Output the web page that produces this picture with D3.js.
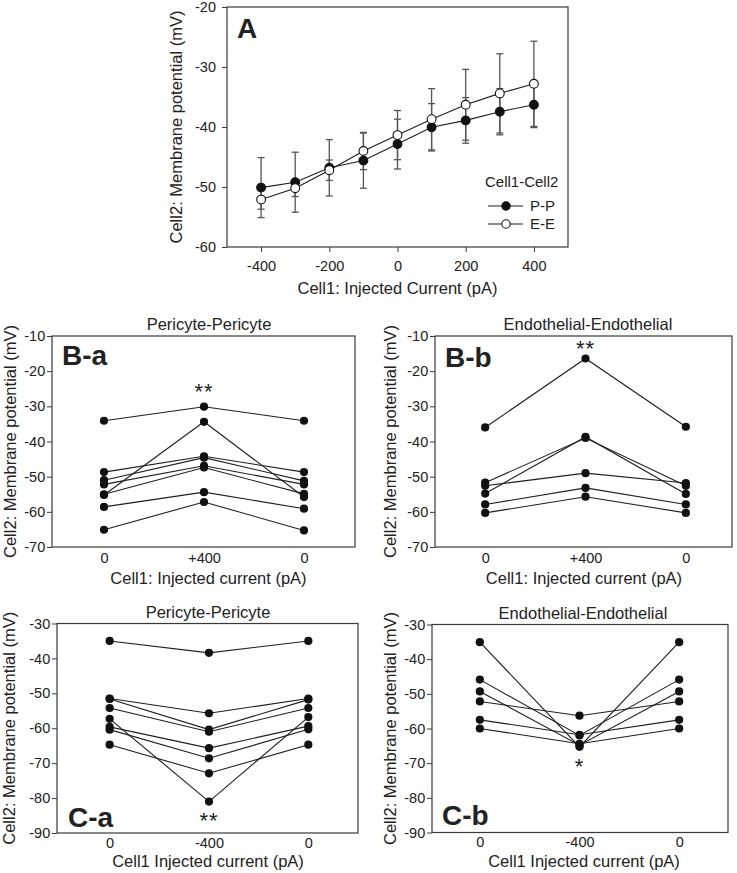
<!DOCTYPE html>
<html><head><meta charset="utf-8">
<script src="https://cdn.jsdelivr.net/npm/d3@7"></script>
<style>
body{margin:0;background:#fff}
svg{display:block}
text{font-family:Arial,"Liberation Sans",sans-serif;fill:#222}
</style>
</head><body>
<svg id="chart" width="737" height="873"></svg>
<script>
// ---------- Panel A data ----------
const currentA = [-400, -300, -200, -100, 0, 100, 200, 300, 400];
const ppMean = [-50.1, -49.2, -46.8, -45.6, -42.85, -40.05, -38.9, -37.45, -36.3];
const ppSD   = [5.0, 5.0, 4.7, 4.6, 4.15, 3.95, 3.8, 3.85, 3.8];
const eeMean = [-52.1, -50.2, -47.2, -44.0, -41.35, -38.7, -36.3, -34.4, -32.8];
const eeSD   = [1.6, 1.4, 1.7, 3.1, 4.1, 5.1, 5.9, 6.6, 7.1];
const xTicksA = [-400, -200, 0, 200, 400];
const yTicksA = [-60, -50, -40, -30, -20];
const legendTitle = "Cell1-Cell2";
const legendNames = ["P-P", "E-E"];

// ---------- Panels B / C data ----------
const condB = ["0", "+400", "0"];
const condC = ["0", "-400", "0"];
const yTicksB = [-70, -60, -50, -40, -30, -20, -10];
const yTicksC = [-90, -80, -70, -60, -50, -40, -30];
const seriesBa = [
  [-34.1, -30.1, -34.1],
  [-55.2, -34.4, -55.8],
  [-48.7, -44.2, -48.7],
  [-51.0, -44.6, -51.2],
  [-52.2, -46.9, -52.2],
  [-55.0, -47.4, -54.9],
  [-58.6, -54.4, -59.1],
  [-65.1, -57.2, -65.3]
];
const seriesBb = [
  [-36.0, -16.4, -35.8],
  [-54.8, -38.7, -54.9],
  [-51.7, -39.0, -52.6],
  [-52.6, -49.0, -51.8],
  [-57.9, -53.2, -57.9],
  [-60.3, -55.7, -60.3]
];
const seriesCa = [
  [-35.0, -38.4, -35.0],
  [-51.5, -55.7, -51.5],
  [-51.6, -60.4, -51.8],
  [-54.2, -61.0, -54.2],
  [-57.3, -81.0, -56.8],
  [-59.6, -65.7, -59.4],
  [-60.4, -68.6, -60.3],
  [-64.7, -72.9, -64.7]
];
const seriesCb = [
  [-35.1, -65.3, -35.1],
  [-45.9, -62.0, -45.9],
  [-49.3, -64.8, -49.3],
  [-52.2, -56.3, -52.2],
  [-57.5, -61.8, -57.5],
  [-60.0, -64.4, -60.0]
];
const titlePP = "Pericyte-Pericyte";
const titleEE = "Endothelial-Endothelial";
const yTitle = "Cell2: Membrane potential (mV)";
const xTitleA = "Cell1: Injected Current (pA)";
const xTitleB = "Cell1: Injected current (pA)";
const xTitleC = "Cell1 Injected current (pA)";

const svg = d3.select("#chart");
const FRAME = "#3a3a3a", LINE = "#1e1e1e", ERR = "#555";
const TICKFS = "14.5px", TITLEFS = "16.5px";
const fmt = d => String(d);

function styleAxis(g){
  g.select(".domain").remove();
  g.selectAll(".tick line").attr("stroke", FRAME);
  g.selectAll(".tick text").attr("font-size", TICKFS).attr("font-family", "Arial, 'Liberation Sans', sans-serif").attr("fill", "#222");
}

// ---------- Panel A ----------
(function(){
  const L = 227, R = 568, T = 7, B = 247;
  const x = d3.scaleLinear().domain([-500, 500]).range([L, R]);
  const y = d3.scaleLinear().domain([-60, -20]).range([B, T]);
  const g = svg.append("g");
  g.append("g").attr("transform", `translate(0,${B})`)
    .call(d3.axisBottom(x).tickValues(xTicksA).tickFormat(fmt).tickSize(5).tickPadding(9)).call(styleAxis);
  g.append("g").attr("transform", `translate(${L},0)`)
    .call(d3.axisLeft(y).tickValues(yTicksA).tickFormat(fmt).tickSize(5).tickPadding(6)).call(styleAxis);
  g.append("rect").attr("x", L).attr("y", T).attr("width", R - L).attr("height", B - T)
    .attr("fill", "none").attr("stroke", FRAME).attr("stroke-width", 1.2);

  const series = [
    {mean: ppMean, sd: ppSD, fill: "#111"},
    {mean: eeMean, sd: eeSD, fill: "#fff"}
  ];
  series.forEach(s => {
    currentA.forEach((c, i) => {
      const cx = x(c), yt = y(s.mean[i] + s.sd[i]), yb = y(s.mean[i] - s.sd[i]);
      g.append("line").attr("x1", cx).attr("x2", cx).attr("y1", yt).attr("y2", yb).attr("stroke", ERR).attr("stroke-width", 1.3);
      [yt, yb].forEach(yy => g.append("line").attr("x1", cx - 3.5).attr("x2", cx + 3.5).attr("y1", yy).attr("y2", yy).attr("stroke", ERR).attr("stroke-width", 1.3));
    });
  });
  const line = d3.line().x((d, i) => x(currentA[i])).y(d => y(d));
  series.forEach(s => {
    g.append("path").attr("d", line(s.mean)).attr("fill", "none").attr("stroke", LINE).attr("stroke-width", 1.1);
  });
  series.forEach(s => {
    g.selectAll(null).data(s.mean).enter().append("circle")
      .attr("cx", (d, i) => x(currentA[i])).attr("cy", d => y(d)).attr("r", 4.4)
      .attr("fill", s.fill).attr("stroke", "#111").attr("stroke-width", 1.1);
  });
  g.append("text").attr("x", 485).attr("y", 187).attr("font-size", "15px").text(legendTitle);
  legendNames.forEach((n, i) => {
    const ly = 206 + i * 18;
    g.append("line").attr("x1", 488).attr("x2", 523).attr("y1", ly).attr("y2", ly).attr("stroke", LINE).attr("stroke-width", 1.1);
    g.append("circle").attr("cx", 506).attr("cy", ly).attr("r", 4.2).attr("fill", series[i].fill).attr("stroke", "#111").attr("stroke-width", 1.1);
    g.append("text").attr("x", 530).attr("y", ly + 5.3).attr("font-size", "15px").text(n);
  });
  g.append("text").attr("x", 237).attr("y", 38).attr("font-size", "28px").attr("font-weight", "bold").attr("fill", "#111").text("A");
  g.append("text").attr("x", (L + R) / 2).attr("y", 294).attr("text-anchor", "middle").attr("font-size", TITLEFS).text(xTitleA);
  g.append("text").attr("transform", `translate(176,${(T + B) / 2}) rotate(-90)`).attr("dy", "0.35em")
    .attr("text-anchor", "middle").attr("font-size", TITLEFS).text(yTitle);
})();

// ---------- Panels B / C ----------
function smallPanel(o){
  const x = d3.scaleLinear().domain(o.xd).range([o.L, o.R]);
  const y = d3.scaleLinear().domain(o.yd).range([o.B, o.T]);
  const g = svg.append("g");
  g.append("g").attr("transform", `translate(0,${o.B})`)
    .call(d3.axisBottom(x).tickValues([1, 2, 3]).tickFormat((d, i) => o.cats[i]).tickSize(0).tickPadding(o.xpad)).call(styleAxis);
  g.append("g").attr("transform", `translate(${o.L},0)`)
    .call(d3.axisLeft(y).tickValues(o.yTicks).tickFormat(fmt).tickSize(5).tickPadding(1.8)).call(styleAxis);
  g.append("rect").attr("x", o.L).attr("y", o.T).attr("width", o.R - o.L).attr("height", o.B - o.T)
    .attr("fill", "none").attr("stroke", FRAME).attr("stroke-width", 1.2);
  const line = d3.line().x((d, i) => x(i + 1)).y(d => y(d));
  o.data.forEach(s => g.append("path").attr("d", line(s)).attr("fill", "none").attr("stroke", LINE).attr("stroke-width", 1.1));
  o.data.forEach(s => g.selectAll(null).data(s).enter().append("circle")
    .attr("cx", (d, i) => x(i + 1)).attr("cy", d => y(d)).attr("r", 4.1).attr("fill", "#111"));
  g.append("text").attr("x", o.titleX).attr("y", o.T - 6).attr("text-anchor", "middle").attr("font-size", TITLEFS).text(o.title);
  g.append("text").attr("x", o.xtX).attr("y", o.xtY).attr("text-anchor", "middle").attr("font-size", TITLEFS).text(o.xTitle);
  g.append("text").attr("transform", `translate(${o.ytX},${(o.T + o.B) / 2}) rotate(-90)`).attr("dy", "0.35em")
    .attr("text-anchor", "middle").attr("font-size", TITLEFS).text(yTitle);
  g.append("text").attr("x", o.lab[0]).attr("y", o.lab[1]).attr("font-size", "28px").attr("font-weight", "bold").attr("fill", "#111").text(o.label);
  g.append("text").attr("x", x(2)).attr("y", o.starY).attr("text-anchor", "middle").attr("font-size", "22px").attr("letter-spacing", "1px").text(o.star);
}

smallPanel({L: 52, R: 355, T: 336, B: 547, xd: [0.48, 3.51], yd: [-70, -10], yTicks: yTicksB, cats: condB, xpad: 5.5,
  data: seriesBa, title: titlePP, titleX: 209, xTitle: xTitleB, xtX: 208.5, xtY: 584, ytX: 10,
  label: "B-a", lab: [62, 365], star: "**", starY: 399});
smallPanel({L: 435, R: 732, T: 336, B: 547, xd: [0.5, 3.46], yd: [-70, -10], yTicks: yTicksB, cats: condB, xpad: 5.5,
  data: seriesBb, title: titleEE, titleX: 588, xTitle: xTitleB, xtX: 584, xtY: 584, ytX: 390,
  label: "B-b", lab: [445, 367], star: "**", starY: 356});
smallPanel({L: 57, R: 358, T: 623.5, B: 833, xd: [0.47, 3.5], yd: [-90, -30], yTicks: yTicksC, cats: condC, xpad: 4.5,
  data: seriesCa, title: titlePP, titleX: 208, xTitle: xTitleC, xtX: 208, xtY: 867, ytX: 9,
  label: "C-a", lab: [68, 827], star: "**", starY: 828});
smallPanel({L: 432, R: 728, T: 624.5, B: 832.5, xd: [0.52, 3.49], yd: [-90, -30], yTicks: yTicksC, cats: condC, xpad: 4.5,
  data: seriesCb, title: titleEE, titleX: 583, xTitle: xTitleC, xtX: 584, xtY: 867, ytX: 390,
  label: "C-b", lab: [442, 825], star: "*", starY: 774});
</script>
</body></html>
